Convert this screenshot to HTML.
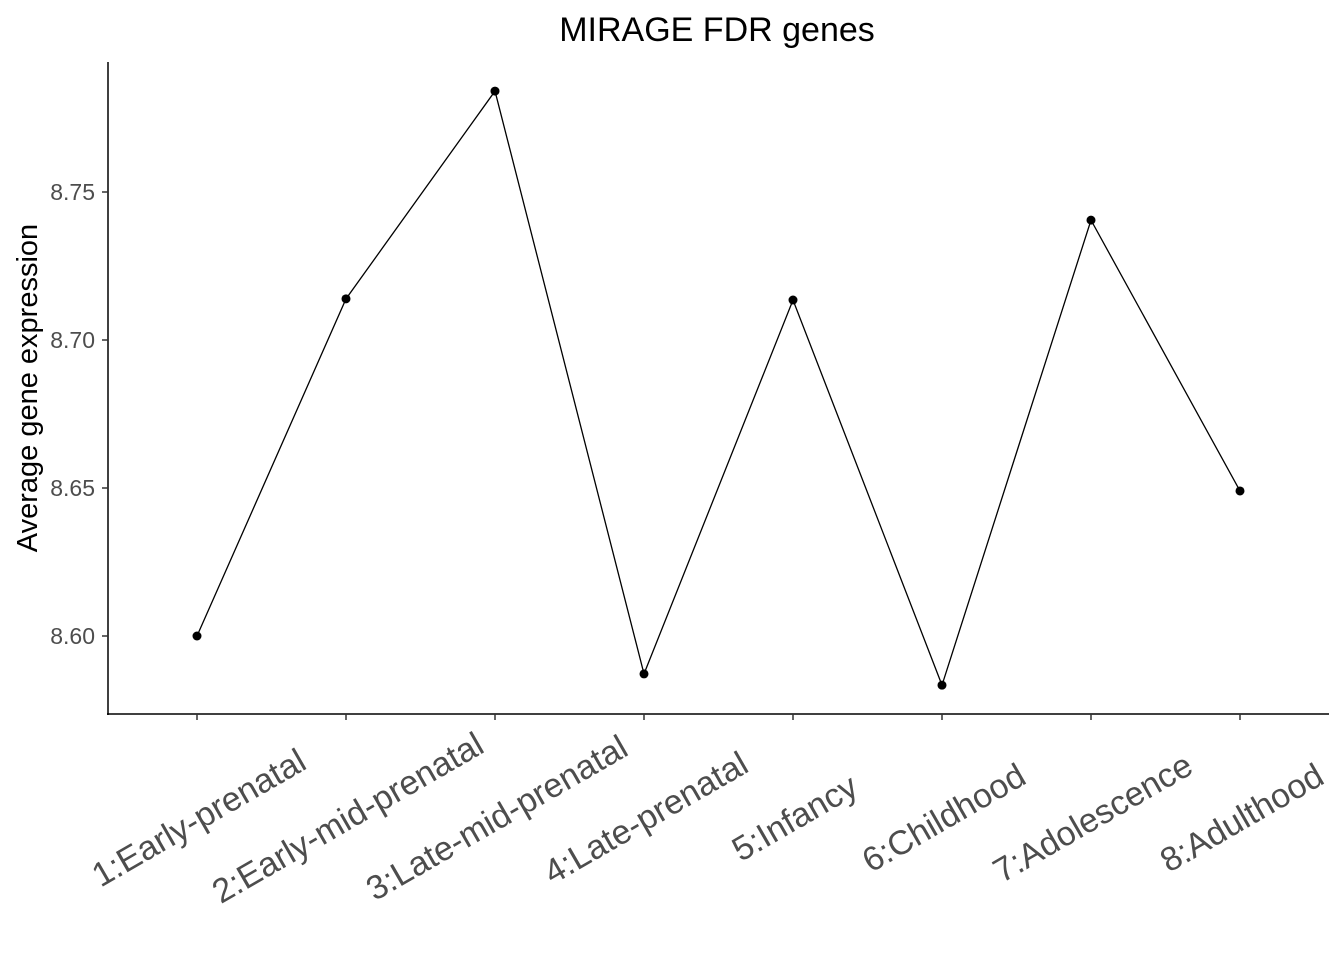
<!DOCTYPE html>
<html><head><meta charset="utf-8"><style>
body{margin:0;background:#fff;}
svg{display:block;font-family:"Liberation Sans",Arial,sans-serif;}
</style></head><body>
<svg id="chart" width="1344" height="960">
<text x="717" y="41" text-anchor="middle" font-size="34" fill="#000">MIRAGE FDR genes</text>
<text transform="translate(37,388) rotate(-90)" text-anchor="middle" font-size="29" fill="#000">Average gene expression</text>
<line x1="108" y1="62" x2="108" y2="715" stroke="#000" stroke-width="1.5"/>
<line x1="107" y1="714" x2="1329" y2="714" stroke="#000" stroke-width="1.5"/>
<g id="yticks"></g><g id="xticks"></g><g id="series"></g>
</svg>
<script>
const categories=["1:Early-prenatal","2:Early-mid-prenatal","3:Late-mid-prenatal","4:Late-prenatal","5:Infancy","6:Childhood","7:Adolescence","8:Adulthood"];
const values=[8.600,8.7139,8.7841,8.5872,8.7135,8.5834,8.7405,8.649];
const yTicks=[8.60,8.65,8.70,8.75];
const yTickLabels=["8.60","8.65","8.70","8.75"];
const NS="http://www.w3.org/2000/svg";
function yScale(v){return 636-(v-8.60)*2960;}
function xScale(i){return 197+i*149;}
function mk(t,a,p){const e=document.createElementNS(NS,t);for(const k in a)e.setAttribute(k,a[k]);p.appendChild(e);return e;}
const yg=document.getElementById('yticks'),xg=document.getElementById('xticks'),sg=document.getElementById('series');
yTicks.forEach((v,i)=>{
 const l=mk('line',{x1:102,x2:108,y1:yScale(v),y2:yScale(v),stroke:'#333','stroke-width':1.5},yg);
 
 
 const t=mk('text',{x:95,y:yScale(v)+8,'text-anchor':'end','font-size':23,fill:'#4d4d4d'},yg);
 t.textContent=yTickLabels[i];
 
 
});
categories.forEach((c,i)=>{
 const x=xScale(i);
 const l=mk('line',{x1:x,x2:x,y1:714,y2:720,stroke:'#333','stroke-width':1.5},xg);
 
 
 const t=mk('text',{transform:`translate(${x+3},${820}) rotate(-30)`,'text-anchor':'middle','dominant-baseline':'middle','font-size':34,fill:'#4d4d4d'},xg);
 t.textContent=c;
 
 
});
const pts=values.map((v,i)=>xScale(i)+','+yScale(v)).join(' ');
const pl=mk('polyline',{points:pts,fill:'none',stroke:'#000','stroke-width':1.3},sg);


values.forEach((v,i)=>{
 const c=mk('circle',{cx:xScale(i),cy:yScale(v),r:4.5,fill:'#000'},sg);
 
 
});
</script>
</body></html>
